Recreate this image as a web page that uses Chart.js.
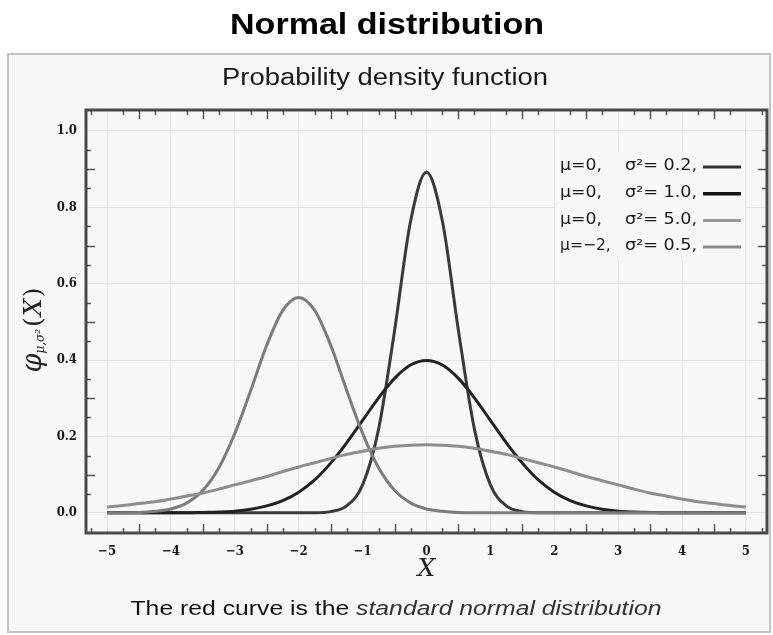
<!DOCTYPE html>
<html>
<head>
<meta charset="utf-8">
<script src="https://cdn.jsdelivr.net/npm/chart.js@4"></script>
<style>
html,body{margin:0;padding:0;background:#fff;}
canvas{display:block;}
</style>
</head>
<body>
<canvas id="c" width="773" height="635"></canvas>
<script>
// ---- data (x step 0.25 from -5 to 5) ----
const xValues = [-5,-4.75,-4.5,-4.25,-4,-3.75,-3.5,-3.25,-3,-2.75,-2.5,-2.25,-2,-1.75,-1.5,-1.25,-1,-0.75,-0.5,-0.25,0,0.25,0.5,0.75,1,1.25,1.5,1.75,2,2.25,2.5,2.75,3,3.25,3.5,3.75,4,4.25,4.5,4.75,5];
const seriesS02 = [0,0,0,0,0,0,0,0,0,0,0,0,0,0,0.003,0.018,0.073,0.219,0.477,0.763,0.892,0.763,0.477,0.219,0.073,0.018,0.003,0,0,0,0,0,0,0,0,0,0,0,0,0,0];
const seriesS10 = [0,0,0,0,0,0,0.001,0.002,0.004,0.009,0.018,0.032,0.054,0.086,0.130,0.183,0.242,0.301,0.352,0.387,0.399,0.387,0.352,0.301,0.242,0.183,0.130,0.086,0.054,0.032,0.018,0.009,0.004,0.002,0.001,0,0,0,0,0,0];
const seriesS50 = [0.015,0.019,0.024,0.029,0.036,0.044,0.052,0.062,0.073,0.084,0.095,0.108,0.120,0.131,0.142,0.153,0.161,0.169,0.174,0.177,0.178,0.177,0.174,0.169,0.161,0.153,0.142,0.131,0.120,0.108,0.095,0.084,0.073,0.062,0.052,0.044,0.036,0.029,0.024,0.019,0.015];
const seriesM2 = [0,0,0.001,0.004,0.010,0.026,0.059,0.118,0.208,0.321,0.439,0.530,0.564,0.530,0.439,0.321,0.208,0.118,0.059,0.026,0.010,0.004,0.001,0,0,0,0,0,0,0,0,0,0,0,0,0,0,0,0,0,0];
const xTickValues = [-5,-4,-3,-2,-1,0,1,2,3,4,5];
const yTickValues = [0,0.2,0.4,0.6,0.8,1.0];
const legendMu = ['μ=0,','μ=0,','μ=0,','μ=−2,'];
const legendSigma = ['σ²= 0.2,','σ²= 1.0,','σ²= 5.0,','σ²= 0.5,'];
const seriesColors = ['#3a3a3a','#222222','#8e8e8e','#7c7c7c'];
const legendColors = ['#333333','#151515','#9a9a9a','#8a8a8a'];

const toPts = arr => xValues.map((x,i)=>({x:x,y:arr[i]}));
const allSeries = [seriesS50, seriesM2, seriesS10, seriesS02];
const allColors = [seriesColors[2], seriesColors[3], seriesColors[1], seriesColors[0]];

// draw text stretched horizontally by sx, left-aligned at x
function stretchText(ctx, text, x, y, sx){
  ctx.save();
  ctx.translate(x, y);
  ctx.scale(sx, 1);
  ctx.textAlign = 'left';
  ctx.fillText(text, 0, 0);
  ctx.restore();
}
function centeredFit(ctx, text, cx, y, targetW){
  const w = ctx.measureText(text).width;
  const sx = targetW / w;
  stretchText(ctx, text, cx - targetW/2, y, sx);
}

const decor = {
  id:'decor',
  beforeDraw(chart){
    const ctx = chart.ctx;
    ctx.save();
    ctx.fillStyle = '#ffffff';
    ctx.fillRect(0,0,chart.width,chart.height);
    ctx.fillStyle = '#f8f8f8';
    ctx.fillRect(8,54,762,578);
    ctx.strokeStyle = '#c4c4c4';
    ctx.lineWidth = 2;
    ctx.strokeRect(8,54,762,578);
    ctx.fillStyle = '#000';
    ctx.textBaseline = 'middle';
    ctx.font = 'bold 29px "Liberation Sans", Arial, sans-serif';
    centeredFit(ctx, 'Normal distribution', 387, 26, 314);
    ctx.fillStyle = '#1a1a1a';
    ctx.font = '23px "Liberation Sans", Arial, sans-serif';
    centeredFit(ctx, 'Probability density function', 385, 79, 326);
    ctx.restore();
  },
  afterDraw(chart){
    const ctx = chart.ctx;
    const a = chart.chartArea;
    const xs = chart.scales.x, ys = chart.scales.y;
    ctx.save();
    // minor ticks, inward on all four sides
    ctx.strokeStyle = '#555';
    ctx.lineWidth = 1.5;
    ctx.beginPath();
    for (let k=-21;k<=21;k++){
      if (k%4===0) continue;
      const v = k*0.25;
      const px = Math.round(xs.getPixelForValue(v))+0.5;
      if (px<=a.left+2||px>=a.right-2) continue;
      const len = (k%2===0)?9:5;
      ctx.moveTo(px,a.bottom); ctx.lineTo(px,a.bottom-len);
      ctx.moveTo(px,a.top); ctx.lineTo(px,a.top+len);
    }
    for (let k=1;k<20;k++){
      if (k%4===0) continue;
      const v = k*0.05;
      const py = Math.round(ys.getPixelForValue(v))+0.5;
      const len = (k%2===0)?9:5;
      ctx.moveTo(a.left,py); ctx.lineTo(a.left+len,py);
      ctx.moveTo(a.right,py); ctx.lineTo(a.right-len,py);
    }
    ctx.stroke();
    // frame
    ctx.strokeStyle = '#4a4a4a';
    ctx.lineWidth = 3;
    ctx.strokeRect(a.left,a.top,a.right-a.left,a.bottom-a.top);

    // legend
    const lx = 560;
    const rowY0 = 166, rowGap = 26.7;
    ctx.fillStyle = '#f8f8f8';
    ctx.fillRect(lx-5, rowY0-14, 190, rowGap*3+28);
    ctx.textBaseline = 'middle';
    for (let i=0;i<4;i++){
      const y = rowY0 + i*rowGap;
      ctx.fillStyle = '#1a1a1a';
      ctx.font = '16px "DejaVu Sans Condensed", "DejaVu Sans", sans-serif';
      stretchText(ctx, legendMu[i], lx, y, i===3?1.08:1.2);
      stretchText(ctx, legendSigma[i], lx+65, y, 1.22);
      ctx.strokeStyle = legendColors[i];
      ctx.lineWidth = i===1?3.5:3;
      ctx.beginPath();
      ctx.moveTo(lx+143, y+1); ctx.lineTo(lx+181, y+1);
      ctx.stroke();
    }

    // y axis title  φ_{μ,σ²}(X)
    ctx.save();
    ctx.translate(34, 330);
    ctx.rotate(-Math.PI/2);
    ctx.fillStyle = '#222';
    ctx.textBaseline = 'middle';
    ctx.textAlign = 'left';
    const fPhi = 'italic 27px "DejaVu Serif", serif';
    const fSub = 'italic 12px "DejaVu Serif", serif';
    const fPar = '25px "DejaVu Serif", serif';
    const fX = 'italic 25px "DejaVu Serif", serif';
    ctx.font = fPhi; const w1 = ctx.measureText('φ').width;
    ctx.font = fSub; const w2 = ctx.measureText('μ,σ²').width;
    ctx.font = fPar; const w3 = ctx.measureText('(').width, w5 = ctx.measureText(')').width;
    ctx.font = fX; const w4 = ctx.measureText('X').width;
    let cx = -(w1+w2+w3+w4+w5+4)/2;
    ctx.font = fPhi; ctx.fillText('φ', cx, 0); cx += w1;
    ctx.font = fSub; ctx.fillText('μ,σ²', cx, 7); cx += w2+2;
    ctx.font = fPar; ctx.fillText('(', cx, 0); cx += w3+1;
    ctx.font = fX; ctx.fillText('X', cx, 0); cx += w4+1;
    ctx.font = fPar; ctx.fillText(')', cx, 0);
    ctx.restore();

    // x axis title
    ctx.fillStyle = '#222';
    ctx.textAlign = 'center';
    ctx.textBaseline = 'middle';
    ctx.font = 'italic 25px "DejaVu Serif", serif';
    ctx.fillText('X', xs.getPixelForValue(0), 569);

    // footer
    const t1 = 'The red curve is the ';
    const t2 = 'standard normal distribution';
    const fR = '20px "Liberation Sans", Arial, sans-serif';
    const fI = 'italic 20px "Liberation Sans", Arial, sans-serif';
    ctx.font = fR; const wa = ctx.measureText(t1).width;
    ctx.font = fI; const wb = ctx.measureText(t2).width;
    const sx = 531/(wa+wb);
    const fx = 396 - 531/2;
    ctx.fillStyle = '#111';
    ctx.font = fR; stretchText(ctx, t1, fx, 609, sx);
    ctx.fillStyle = '#333';
    ctx.font = fI; stretchText(ctx, t2, fx+wa*sx, 609, sx);
    ctx.restore();
  }
};

new Chart(document.getElementById('c'), {
  type:'line',
  data:{
    datasets: allSeries.map((s,i)=>({
      data: toPts(s),
      borderColor: allColors[i],
      borderWidth: 3,
      pointRadius: 0,
      fill:false,
      cubicInterpolationMode:'monotone'
    }))
  },
  options:{
    responsive:false,
    animation:false,
    devicePixelRatio:1,
    layout:{padding:{top:110,right:6,left:0,bottom:0}},
    plugins:{legend:{display:false},title:{display:false},tooltip:{enabled:false}},
    scales:{
      x:{
        type:'linear', min:-5.33, max:5.33,
        afterFit: s=>{ s.height = 102; },
        afterBuildTicks: s=>{ s.ticks = xTickValues.map(v=>({value:v})); },
        grid:{color:'#e4e4e4', lineWidth:1, drawTicks:false},
        border:{display:false},
        ticks:{
          padding:11, color:'#1a1a1a', maxRotation:0, autoSkip:false,
          font:{family:'"DejaVu Serif Condensed", "DejaVu Serif", serif', size:13, weight:'bold'},
          callback: v => v<0 ? '−'+Math.abs(v) : String(v)
        }
      },
      y:{
        type:'linear', min:-0.053, max:1.055,
        afterFit: s=>{ s.width = 86; },
        afterBuildTicks: s=>{ s.ticks = yTickValues.map(v=>({value:v})); },
        grid:{color:'#e4e4e4', lineWidth:1, drawTicks:false},
        border:{display:false},
        ticks:{
          padding:9, color:'#1a1a1a', autoSkip:false,
          font:{family:'"DejaVu Serif Condensed", "DejaVu Serif", serif', size:13, weight:'bold'},
          callback: v => Number(v).toFixed(1)
        }
      }
    }
  },
  plugins:[decor]
});
</script>
</body>
</html>
